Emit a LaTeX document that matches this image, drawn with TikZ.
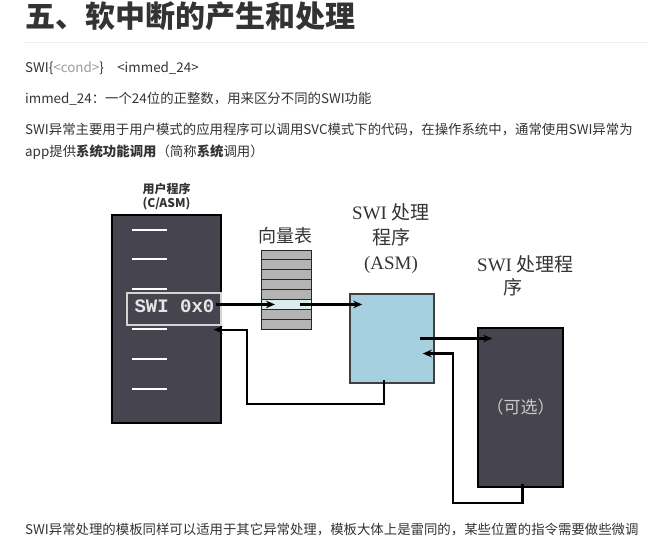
\documentclass[tikz,border=0pt]{standalone}
\usepackage{fontspec}
\setmainfont{Liberation Serif}
\newfontfamily\cjk{Noto Sans CJK SC}
\newfontfamily\swimono{Liberation Mono}
\usetikzlibrary{arrows.meta,positioning}

\definecolor{darkprog}{HTML}{46454F}
\definecolor{asmblue}{HTML}{A6CFE0}
\definecolor{asmedge}{HTML}{404040}
\definecolor{vecgray}{HTML}{B4B4B4}
\definecolor{vechigh}{HTML}{DCEDEE}
\definecolor{webtext}{HTML}{333333}
\definecolor{condgray}{HTML}{9A9A9A}
\definecolor{rulegray}{HTML}{EEEEEE}
\definecolor{swiedge}{HTML}{D4D4D4}
\definecolor{optgray}{HTML}{C8C8C8}

\tikzset{
  progbox/.style={draw=black, line width=1.6pt, fill=darkprog, inner sep=0pt},
  codeline/.style={white, line width=2pt},
  vecrow/.style={draw=black!85, line width=0.9pt, minimum width=50pt, minimum height=9.9pt, inner sep=0pt},
  arr/.style={line width=2.3pt, -{Stealth[length=9pt,width=7.5pt]}},
  webline/.style={anchor=west, inner sep=0pt, text=webtext, font=\cjk\fontsize{13.4}{16}\selectfont},
  serlabel/.style={inner sep=0pt, text=webtext, font=\fontsize{19}{25}\selectfont}
}

\begin{document}
\begin{tikzpicture}[x=1pt,y=-1pt]
\useasboundingbox (0,0) rectangle (661,552);

% text of the page
\node[anchor=west, inner sep=0pt, text=webtext, font=\cjk\bfseries\fontsize{30}{32}\selectfont] (title) at (25,16) {五、软中断的产生和处理};
\draw[rulegray, line width=1pt] (25,42) -- (648,42);
\node[webline] (syntax) at (25,68) {SWI\{\textcolor{condgray}{<cond>}\}\quad <immed\_24>};
\node[webline] (immed) at (25,99) {immed\_24：一个24位的正整数，用来区分不同的SWI功能};
\node[webline] (intro) at (25,130) {SWI异常主要用于用户模式的应用程序可以调用SVC模式下的代码，在操作系统中，通常使用SWI异常为};
\node[webline] (intro2) at (25,152) {app提供\textbf{系统功能调用}（简称\textbf{系统}调用）};
\node[webline] (note) at (25,530) {SWI异常处理的模板同样可以适用于其它异常处理，模板大体上是雷同的，某些位置的指令需要做些微调};

% user program
\node[progbox, minimum width=109pt, minimum height=208pt] (user) at (166.5,319) {};
\node[above=4pt of user, inner sep=0pt, align=center, text=webtext, font=\cjk\bfseries\fontsize{12}{14}\selectfont] (userlbl) {用户程序\\(C/ASM)};
\foreach \y in {230,259,289,329,359,389}
  \draw[codeline] (132,\y) -- (167,\y);
\node[draw=swiedge, line width=1.3pt, minimum width=94pt, minimum height=32pt, inner sep=0pt] (swi) at (174,309) {};
\node[anchor=west, inner sep=0pt, text=white!90!black, font=\swimono\bfseries\fontsize{19}{19}\selectfont] (swicode) at ([xshift=8pt,yshift=3pt]swi.west) {SWI 0x0};

% vector table
\foreach \i/\c in {1/vecgray,2/vecgray,3/vecgray,4/vecgray,5/vecgray,6/vechigh,7/vecgray,8/vecgray}
  \node[vecrow, fill=\c] (vt\i) at (286,245.05+9.9*\i) {};
\node[serlabel, font=\cjk\fontsize{18}{20}\selectfont] (vtlbl) at (285,235.5) {向量表};

% SWI handler
\node[draw=asmedge, line width=1.5pt, fill=asmblue, minimum width=84pt, minimum height=89pt, inner sep=0pt] (asm) at (392,338.5) {};
\node[serlabel, align=center] (asmlbl) at (391,238.5) {SWI {\cjk 处理}\\{\cjk 程序}\\(ASM)};

% optional handler
\node[progbox, minimum width=85pt, minimum height=159pt, text=optgray, font=\cjk\fontsize{17}{20}\selectfont] (opt) at (520.5,407.5) {（可选）};
\node[serlabel, anchor=west, align=left, font=\fontsize{19}{23}\selectfont] (optlbl) at (477,275.75) {SWI {\cjk 处理程}\\\hspace*{26pt}{\cjk 序}};

% connectors
\draw[arr] ([xshift=-6pt]swi.east |- vt6.center) -- ([xshift=-11pt]vt6.center);
\draw[arr] ([xshift=14pt]vt6.center) -- ([xshift=13pt]asm.west |- vt6.center);
\draw[arr] ([xshift=-15pt]asm.east) -- ([xshift=15pt]opt.west |- asm.east);
\draw[arr] ([xshift=2pt,yshift=4pt]opt.south) -- ++(0,19) -| ([xshift=18pt,yshift=-15pt]asm.east) -- ([xshift=-12pt,yshift=-15pt]asm.east);
\draw[arr] ([xshift=-8pt,yshift=4pt]asm.south) -- ++(0,24) -| ([xshift=25pt,yshift=-4pt]swi.south east) -- ([xshift=-8pt,yshift=-4pt]swi.south east);
\end{tikzpicture}
\end{document}
